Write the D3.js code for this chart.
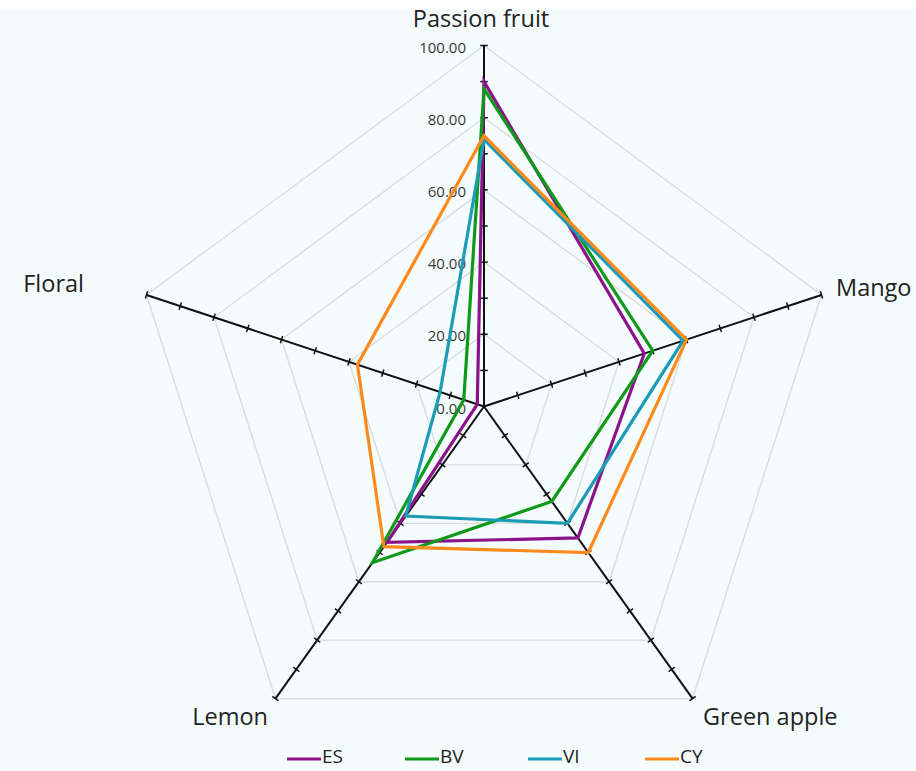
<!DOCTYPE html>
<html>
<head>
<meta charset="utf-8">
<script src="https://cdn.jsdelivr.net/npm/d3@7"></script>
<style>
  html, body { margin: 0; padding: 0; background: #f5fcfd; }
  svg { display: block; }
</style>
</head>
<body>
<svg id="chart" width="916" height="771"></svg>
<script>
// ---- data ----
const categories = ["Passion fruit", "Mango", "Green apple", "Lemon", "Floral"];
const seriesNames = ["ES", "BV", "VI", "CY"];
const ES = [90, 47.5, 45, 46.5, 2];
const BV = [88, 50, 32.5, 53.5, 6];
const VI = [74, 59, 40, 37.5, 13];
const CY = [75, 60, 50, 48, 37.5];
const tickValues = [0, 20, 40, 60, 80, 100];
const minorTicks = [10, 20, 30, 40, 50, 60, 70, 80, 90, 100];
const colors = ["#8b128b", "#0e9a18", "#1a9cb7", "#ff8a1c"];

const seriesValues = [ES, BV, VI, CY];

// ---- layout ----
const svg = d3.select("#chart");
const cx = 484, cy = 406.5;
const sx = 0.983; // slight horizontal compression of the reference
const r = d3.scaleLinear().domain([0, 100]).range([0, 361]);
const angle = d3.scaleLinear().domain([0, categories.length]).range([0, 2 * Math.PI]);

function pt(i, v) {
  const a = angle(i);
  return [cx + sx * r(v) * Math.sin(a), cy - r(v) * Math.cos(a)];
}

svg.append("rect").attr("width", 916).attr("height", 771).attr("fill", "#f5fcfd");
svg.append("rect").attr("width", 916).attr("height", 9).attr("fill", "#ffffff");

// grid rings
const ringG = svg.append("g");
tickValues.filter(t => t > 0).forEach(t => {
  const pts = categories.map((c, i) => pt(i, t));
  ringG.append("path")
    .attr("d", d3.line()(pts) + "Z")
    .attr("fill", "none")
    .attr("stroke", "#d9d9d9")
    .attr("stroke-width", 1.3);
});

// axes
const axG = svg.append("g");
categories.forEach((c, i) => {
  const p0 = pt(i, 0), p1 = pt(i, 100);
  axG.append("line")
    .attr("x1", p0[0]).attr("y1", p0[1]).attr("x2", p1[0]).attr("y2", p1[1])
    .attr("stroke", "#111").attr("stroke-width", 2);
  const a = angle(i);
  const ux = Math.cos(a), uy = Math.sin(a); // perpendicular direction
  minorTicks.forEach(t => {
    const p = pt(i, t);
    axG.append("line")
      .attr("x1", p[0] - ux * 3.8).attr("y1", p[1] - uy * 3.8)
      .attr("x2", p[0] + ux * 3.8).attr("y2", p[1] + uy * 3.8)
      .attr("stroke", "#111").attr("stroke-width", 1.5);
  });
});

// tick labels along first axis
svg.append("g").selectAll("text")
  .data(tickValues)
  .join("text")
  .attr("x", cx - 18)
  .attr("y", d => pt(0, d)[1] + 3)
  .attr("text-anchor", "end")
  .attr("dominant-baseline", "middle")
  .attr("font-family", "'Open Sans', sans-serif")
  .attr("font-size", 15)
  .attr("fill", "#3a3a3a")
  .text(d => d3.format(".2f")(d));

// series
const line = d3.line();
seriesValues.forEach((vals, k) => {
  const pts = vals.map((v, i) => pt(i, v));
  svg.append("path")
    .attr("d", line(pts) + "Z")
    .attr("fill", "none")
    .attr("stroke", colors[k])
    .attr("stroke-width", 3.2)
    .attr("stroke-linejoin", "miter");
});

// category labels
const labelPos = [
  { x: 481, y: 21, anchor: "middle" },
  { x: 836, y: 290, anchor: "start" },
  { x: 703, y: 719, anchor: "start" },
  { x: 268, y: 719, anchor: "end" },
  { x: 84, y: 286, anchor: "end" }
];
svg.append("g").selectAll("text")
  .data(categories)
  .join("text")
  .attr("x", (d, i) => labelPos[i].x)
  .attr("y", (d, i) => labelPos[i].y)
  .attr("text-anchor", (d, i) => labelPos[i].anchor)
  .attr("dominant-baseline", "middle")
  .attr("font-family", "'Open Sans', sans-serif")
  .attr("font-size", 23.5)
  .attr("fill", "#222")
  .text(d => d);

// legend
const legendX = [287, 405, 528, 645];
const lg = svg.append("g");
seriesNames.forEach((n, k) => {
  lg.append("line")
    .attr("x1", legendX[k]).attr("x2", legendX[k] + 34)
    .attr("y1", 759).attr("y2", 759)
    .attr("stroke", colors[k]).attr("stroke-width", 3.2);
  lg.append("text")
    .attr("x", legendX[k] + 35)
    .attr("y", 758)
    .attr("dominant-baseline", "middle")
    .attr("font-family", "'Open Sans', sans-serif")
    .attr("font-size", 19)
    .attr("fill", "#222")
    .text(n);
});
</script>
</body>
</html>
